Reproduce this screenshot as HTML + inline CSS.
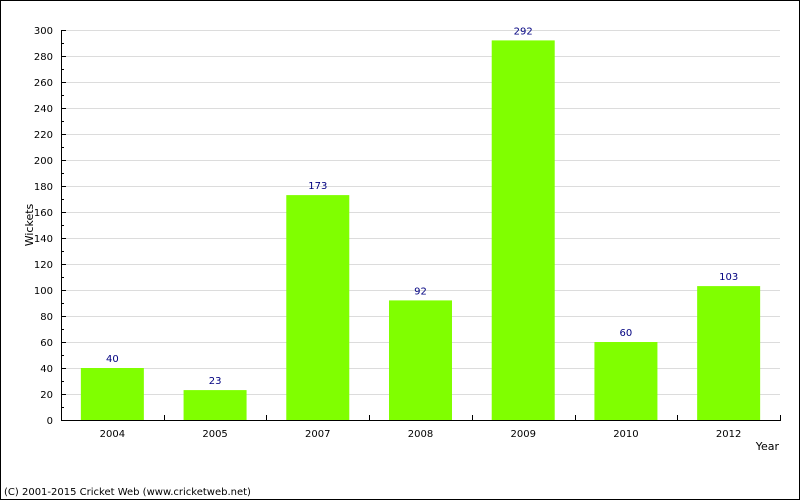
<!DOCTYPE html>
<html><head><meta charset="utf-8"><style>
html,body{margin:0;padding:0;background:#fff}
svg{display:block;font-family:"DejaVu Sans","Liberation Sans",sans-serif}
</style></head><body>
<svg id="chart" width="800" height="500" viewBox="0 0 800 500">
<rect x="0.5" y="0.5" width="799" height="499" fill="#fff" stroke="#000"/>
<g id="grid"></g>
<g id="bars"></g>
<g id="axes"></g>
<text x="33" y="225" font-size="11" text-anchor="middle" transform="rotate(-90 33 225)">Wickets</text>
<text x="779" y="450" font-size="11" text-anchor="end">Year</text>
<text x="4" y="495" font-size="10">(C) 2001-2015 Cricket Web (www.cricketweb.net)</text>
</svg>
<script>
const categories=["2004","2005","2007","2008","2009","2010","2012"];
const wickets=[40,23,173,92,292,60,103];
const yTicks=[0,20,40,60,80,100,120,140,160,180,200,220,240,260,280,300];
const NS="http://www.w3.org/2000/svg";
const L=61,R=780,T=30,B=420,YMAX=300;
const y=v=>B-(v/YMAX)*(B-T);
const bw=(R-L)/categories.length;
const x=i=>L+i*bw;
function mk(tag,attrs,parent){const e=document.createElementNS(NS,tag);for(const k in attrs)e.setAttribute(k,attrs[k]);parent.appendChild(e);return e;}
const grid=document.getElementById('grid'),bars=document.getElementById('bars'),axes=document.getElementById('axes');
yTicks.forEach(t=>{
  if(t>0){const g=mk('line',{x1:L,x2:R,y1:y(t)+0.5,y2:y(t)+0.5,stroke:'#dcdcdc'},grid);
  
  }
  const tk=mk('line',{x1:L,x2:L+5,y1:y(t)+0.5,y2:y(t)+0.5,stroke:'#000'},axes);
  
  
  const lb=mk('text',{x:L-8,y:y(t)+4,'font-size':'10','text-anchor':'end'},axes);
  lb.textContent=t;
  
  
  if(t<YMAX){const m=mk('line',{x1:L,x2:L+3,y1:y(t+10)+0.5,y2:y(t+10)+0.5,stroke:'#000'},axes);
  
  }
});
categories.forEach((c,i)=>{
  const cx=x(i)+bw/2,v=wickets[i];
  const r=mk('rect',{x:cx-31.5,y:y(v),width:63,height:B-y(v),fill:'#80ff00'},bars);
  
  
  const vl=mk('text',{x:cx,y:y(v)-6,'font-size':'10','text-anchor':'middle',fill:'#000080'},bars);
  vl.textContent=v;
  
  
  const xl=mk('text',{x:cx,y:437,'font-size':'10','text-anchor':'middle'},axes);
  xl.textContent=c;
  
  
});
for(let i=1;i<=categories.length;i++){
  const t=mk('line',{x1:Math.round(x(i))+0.5,x2:Math.round(x(i))+0.5,y1:B-5,y2:B,stroke:'#000'},axes);
  
  
}
const ya=mk('line',{x1:L+0.5,x2:L+0.5,y1:T,y2:B,stroke:'#000'},axes);


const xa=mk('line',{x1:L,x2:R+1,y1:B+0.5,y2:B+0.5,stroke:'#000'},axes);


</script>
</body></html>
